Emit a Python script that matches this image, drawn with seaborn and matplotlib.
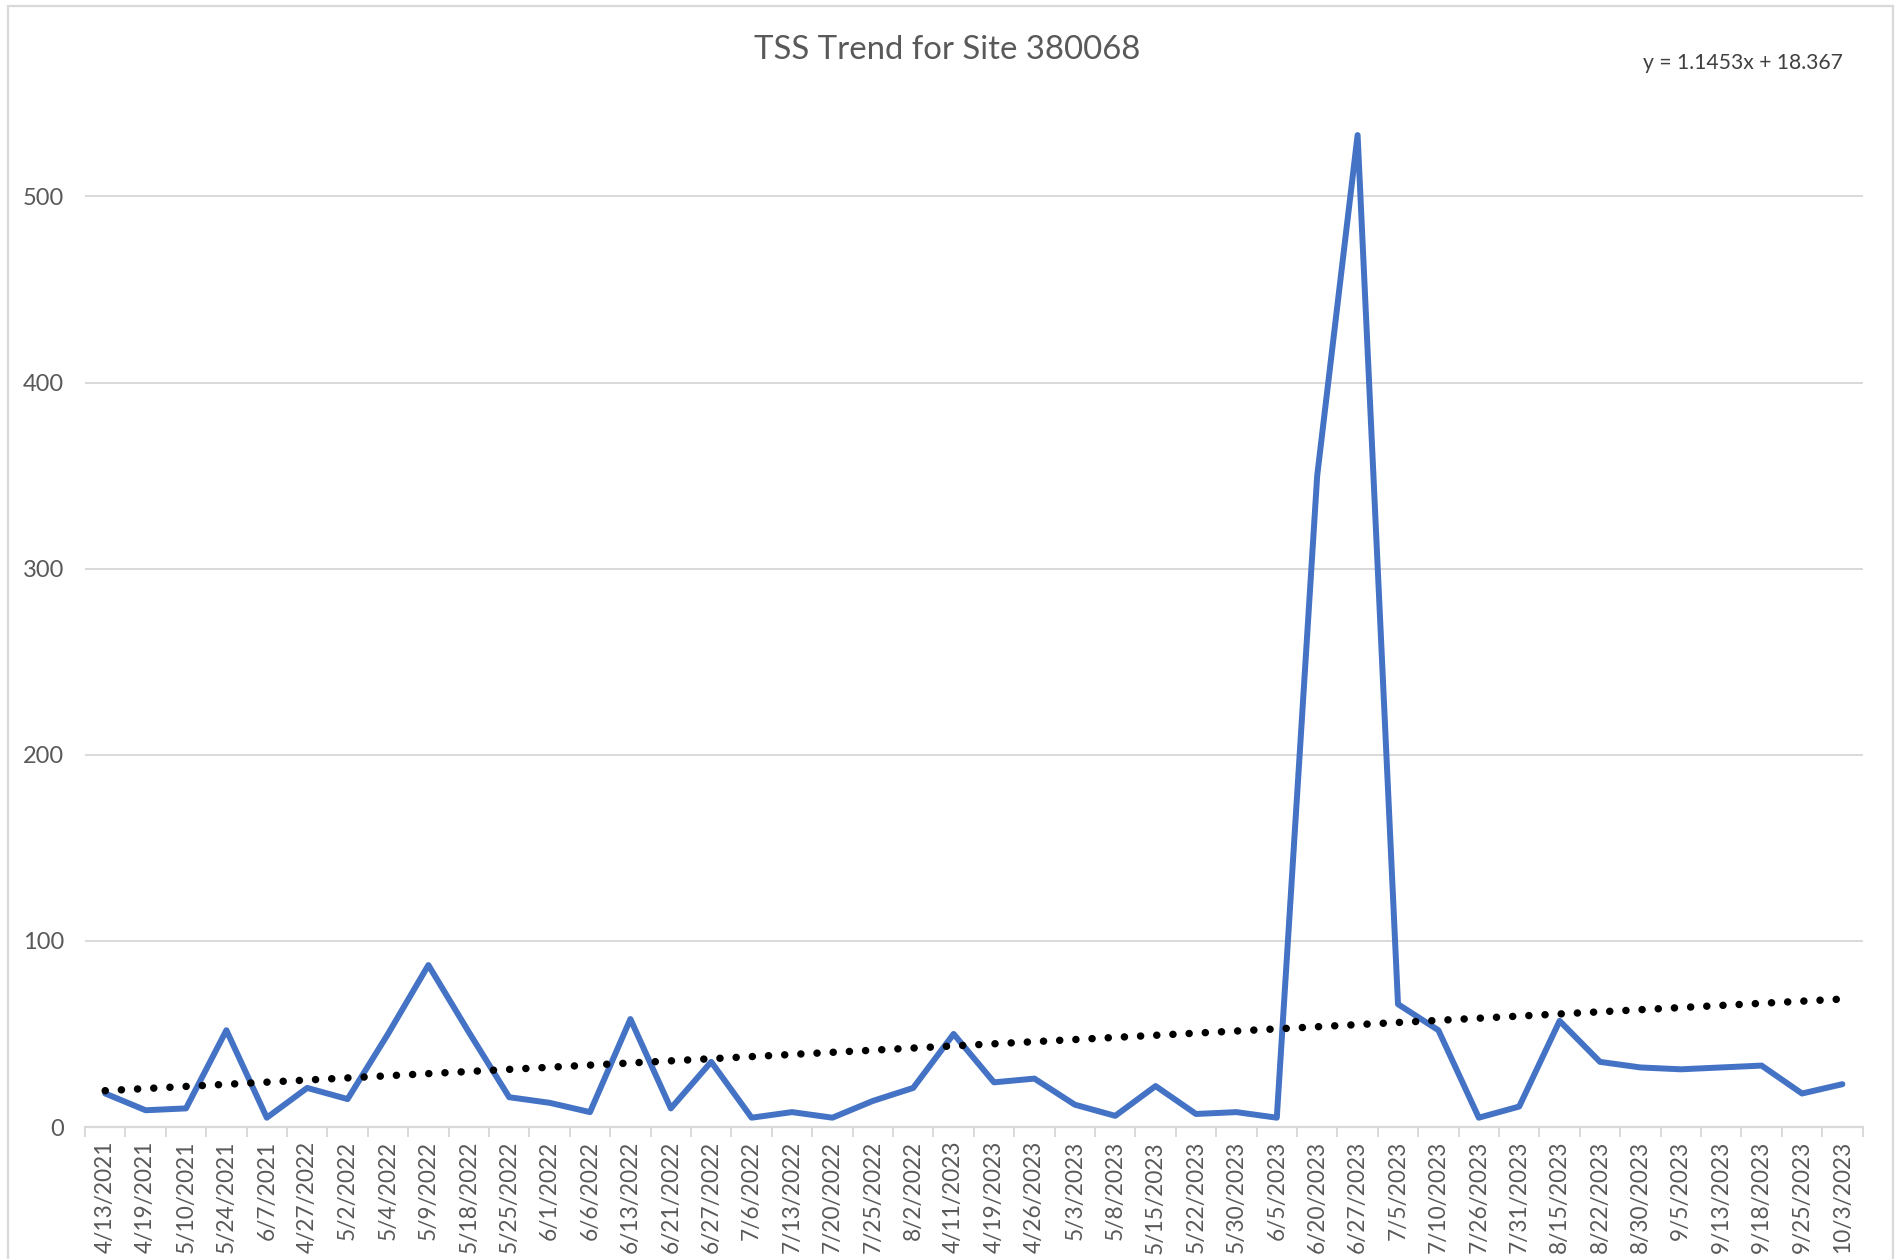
import numpy as np
import pandas as pd
import matplotlib
matplotlib.use("Agg")
import matplotlib.pyplot as plt
import seaborn as sns
from matplotlib.patches import Rectangle

# Sampling dates (category axis) and measured TSS values
dates = [
    "4/13/2021", "4/19/2021", "5/10/2021", "5/24/2021", "6/7/2021",
    "4/27/2022", "5/2/2022", "5/4/2022", "5/9/2022", "5/18/2022",
    "5/25/2022", "6/1/2022", "6/6/2022", "6/13/2022", "6/21/2022",
    "6/27/2022", "7/6/2022", "7/13/2022", "7/20/2022", "7/25/2022",
    "8/2/2022", "4/11/2023", "4/19/2023", "4/26/2023", "5/3/2023",
    "5/8/2023", "5/15/2023", "5/22/2023", "5/30/2023", "6/5/2023",
    "6/20/2023", "6/27/2023", "7/5/2023", "7/10/2023", "7/26/2023",
    "7/31/2023", "8/15/2023", "8/22/2023", "8/30/2023", "9/5/2023",
    "9/13/2023", "9/18/2023", "9/25/2023", "10/3/2023",
]
tss = [
    18, 9, 10, 52, 5,
    21, 15, 50, 87, 51,
    16, 13, 8, 58, 10,
    35, 5, 8, 5, 14,
    21, 50, 24, 26, 12,
    6, 22, 7, 8, 5,
    350, 533, 66, 52, 5,
    11, 57, 35, 32, 31,
    32, 33, 18, 23,
]
y_ticks = [0, 100, 200, 300, 400, 500]

# Linear trend on the category index (1..n)
slope = 1.1453
intercept = 18.367

title = "TSS Trend for Site 380068"
equation = f"y = {slope}x + {intercept}"

W, H = 1898, 1259
sns.set_theme(style="white")
plt.rcParams["font.family"] = ["Lato", "DejaVu Sans"]

grey_text = "#595959"
grid_col = "#d9d9d9"

fig = plt.figure(figsize=(W / 100, H / 100), dpi=100)
ax_left, ax_right = 85, 1862.6
ax_bottom, ax_top = 1127, 29
ax = fig.add_axes([ax_left / W, 1 - ax_bottom / H,
                   (ax_right - ax_left) / W, (ax_bottom - ax_top) / H])

pos = np.arange(1, len(dates) + 1)
df = pd.DataFrame({"pos": pos, "TSS": tss,
                   "trend": intercept + slope * pos})

sns.lineplot(data=df, x="pos", y="TSS", ax=ax, color="#4472C4", lw=4.3,
             solid_joinstyle="round", solid_capstyle="round", zorder=3)
sns.lineplot(data=df, x="pos", y="trend", ax=ax, color="black", lw=5.4,
             linestyle=(0, (0.01, 2.15)), dash_capstyle="round", zorder=4)

ax.set_xlim(0.5, len(dates) + 0.5)
ax.set_ylim(0, 590)
ax.set_yticks(y_ticks)
ax.set_xticks(pos)
ax.set_xticklabels(dates, rotation=90)
ax.set_xticks(np.arange(0.5, len(dates) + 1), minor=True)
ax.set_xlabel("")
ax.set_ylabel("")

ax.yaxis.grid(True, color=grid_col, lw=1.4)
ax.set_axisbelow(True)
for side in ("top", "right", "left"):
    ax.spines[side].set_visible(False)
ax.spines["bottom"].set_color(grid_col)
ax.spines["bottom"].set_linewidth(1.6)

ax.tick_params(axis="x", which="major", length=0, pad=10,
               labelsize=16.3, labelcolor=grey_text)
ax.tick_params(axis="x", which="minor", length=7, width=1.4,
               color=grid_col, bottom=True)
ax.tick_params(axis="y", length=0, pad=15, labelsize=17,
               labelcolor=grey_text)

fig.text(947.5 / W, 1 - 50 / H, title, ha="center", va="center",
         fontsize=23.7, color=grey_text)
fig.text(1843 / W, 1 - 63 / H, equation, ha="right", va="center",
         fontsize=15.2, color="#404040")

# Chart-area frame
fig.patches.append(Rectangle((8 / W, -0.05), (1893 - 8) / W, 1.05 - 6 / H,
                             transform=fig.transFigure, fill=False,
                             edgecolor=grid_col, lw=1.6))

fig.savefig("out.png", dpi=100)
